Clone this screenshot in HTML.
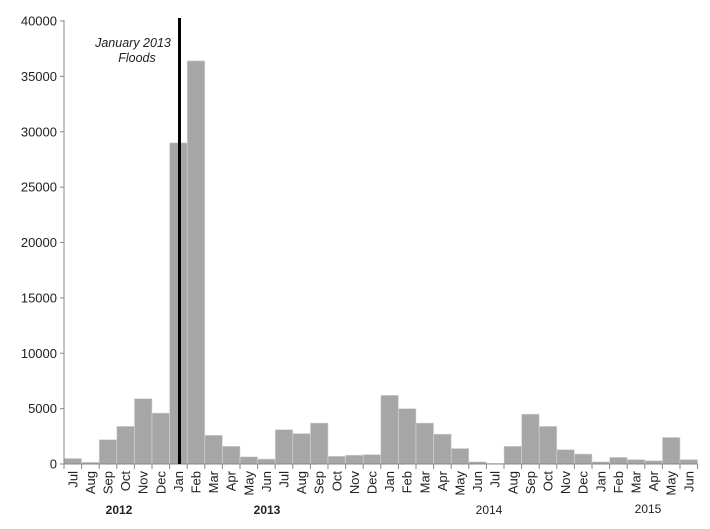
<!DOCTYPE html>
<html><head><meta charset="utf-8"><style>
html,body{margin:0;padding:0;background:#fff;}
svg{display:block;font-family:"Liberation Sans",sans-serif;}
</style></head><body>
<svg width="710" height="529" viewBox="0 0 710 529" xmlns="http://www.w3.org/2000/svg">
<g id="bars" fill="#a6a6a6" stroke="#d9d9d9" stroke-width="0.6"></g>
<g id="axes" stroke="#888" stroke-width="1" fill="none"></g>
<g id="yl" font-size="13" fill="#222" text-anchor="end"></g>
<g id="xl" font-size="13" fill="#222" text-anchor="end"></g>
<line x1="179.5" y1="18" x2="179.5" y2="464" stroke="#000" stroke-width="3"/>
<text x="133" y="47" font-size="12.5" font-style="italic" text-anchor="middle" fill="#222">January 2013</text>
<text x="137" y="62" font-size="12.5" font-style="italic" text-anchor="middle" fill="#222">Floods</text>
<g font-size="12" font-weight="bold" text-anchor="middle" fill="#222">
<text x="119" y="514">2012</text>
<text x="267" y="514">2013</text>
</g>
<g font-size="12" text-anchor="middle" fill="#222">
<text x="489" y="514">2014</text>
<text x="648" y="513">2015</text>
</g>
<script>
var v=[500,150,2200,3400,5900,4600,29000,36400,2600,1600,650,450,3100,2750,3700,700,800,850,6200,5000,3700,2700,1400,200,50,1600,4500,3400,1300,900,200,600,400,300,2400,400];
var m=["Jul","Aug","Sep","Oct","Nov","Dec","Jan","Feb","Mar","Apr","May","Jun"];
var x0=64,w=17.6,y0=464,s=443/40000,ns="http://www.w3.org/2000/svg";
function el(t,a,p,txt){var e=document.createElementNS(ns,t);for(var k in a)e.setAttribute(k,a[k]);if(txt)e.textContent=txt;document.getElementById(p).appendChild(e);}
v.forEach(function(d,i){var h=d*s;el("rect",{x:x0+i*w,y:y0-h,width:w,height:h},"bars");
el("text",{transform:"translate("+(x0+i*w+w/2+4.5)+",471) rotate(-90)"},"xl",m[i%12]);});
el("line",{x1:x0,y1:20,x2:x0,y2:y0},"axes");
el("line",{x1:x0,y1:y0,x2:x0+36*w,y2:y0},"axes");
for(var i=0;i<=36;i++)el("line",{x1:x0+i*w,y1:y0,x2:x0+i*w,y2:y0+5},"axes");
for(var k=0;k<=8;k++){var y=y0-k*5000*s;el("line",{x1:x0-4,y1:y,x2:x0,y2:y},"axes");el("text",{x:x0-7,y:y+4.5},"yl",String(k*5000));}
</script>
</svg>
</body></html>
